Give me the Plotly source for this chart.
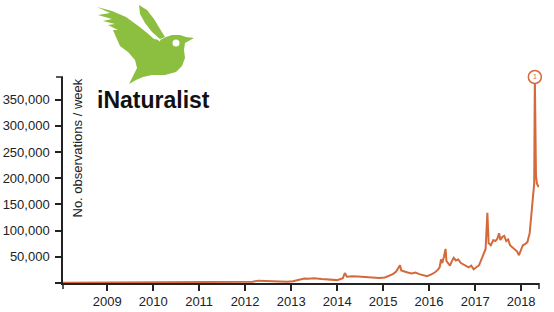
import plotly.graph_objects as go

dates = [
    "2008-01-16", "2008-04-01", "2008-07-01", "2008-10-01",
    "2009-01-01", "2009-04-01", "2009-07-01", "2009-10-01",
    "2010-01-01", "2010-04-01", "2010-07-01", "2010-10-01",
    "2011-01-01", "2011-04-01", "2011-07-01", "2011-10-01",
    "2012-01-01", "2012-03-01", "2012-04-15", "2012-06-01", "2012-08-01", "2012-10-01", "2012-12-01",
    "2013-01-15", "2013-03-01", "2013-04-15", "2013-05-15", "2013-07-01", "2013-09-01", "2013-11-01",
    "2014-01-01", "2014-02-15", "2014-03-03", "2014-03-20", "2014-05-01", "2014-06-15", "2014-08-01",
    "2014-10-01", "2014-12-01",
    "2015-01-15", "2015-02-15", "2015-03-20", "2015-04-15", "2015-05-15", "2015-05-25", "2015-06-15",
    "2015-07-15", "2015-08-15", "2015-09-15", "2015-10-15", "2015-11-15", "2015-12-15",
    "2016-01-15", "2016-02-15", "2016-03-10", "2016-03-25", "2016-04-05", "2016-04-15", "2016-04-28",
    "2016-05-11", "2016-05-18", "2016-05-28", "2016-06-15", "2016-07-01", "2016-07-15", "2016-08-01",
    "2016-08-20", "2016-09-10", "2016-10-01", "2016-10-20", "2016-11-10", "2016-12-01", "2016-12-20",
    "2017-01-10", "2017-02-01", "2017-02-20", "2017-03-10", "2017-03-25", "2017-04-08", "2017-04-18",
    "2017-05-05", "2017-05-25", "2017-06-10", "2017-06-25", "2017-07-10", "2017-07-20", "2017-08-05",
    "2017-08-20", "2017-09-05", "2017-09-20", "2017-10-05", "2017-10-25", "2017-11-10", "2017-12-01",
    "2017-12-15",
    "2018-01-01", "2018-01-15", "2018-02-01", "2018-02-20", "2018-03-10", "2018-03-25", "2018-04-08",
    "2018-04-15", "2018-04-20", "2018-04-29", "2018-05-06", "2018-05-20",
]
observations = [
    300, 400, 600, 500,
    700, 900, 1100, 900,
    1000, 1300, 1500, 1300,
    1400, 1800, 2000, 1800,
    2000, 2500, 4500, 4000, 3500, 3000, 2500,
    3500, 5500, 8500, 8000, 9000, 7500, 6500,
    5500, 9000, 19000, 12000, 13000, 12500, 11500,
    11000, 9500,
    10500, 13000, 17000, 22000, 34000, 24000, 22000,
    20000, 18000, 20000, 17000, 15000, 13000,
    16000, 20000, 25000, 30000, 45000, 38000, 50000,
    65000, 42000, 38000, 33000, 42000, 48000, 43000,
    45000, 38000, 35000, 33000, 30000, 33000, 26000,
    30000, 34000, 45000, 55000, 65000, 134000, 76000,
    72000, 82000, 80000, 84000, 95000, 82000, 88000,
    90000, 80000, 83000, 72000, 68000, 63000, 60000,
    53000,
    65000, 72000, 74000, 78000, 95000, 130000, 175000,
    190000, 393000, 205000, 190000, 183000,
]

year_ticks = ["2009-01-01", "2010-01-01", "2011-01-01", "2012-01-01", "2013-01-01",
              "2014-01-01", "2015-01-01", "2016-01-01", "2017-01-01", "2018-01-01"]
year_labels = ["2009", "2010", "2011", "2012", "2013", "2014", "2015", "2016", "2017", "2018"]
y_ticks = [0, 50000, 100000, 150000, 200000, 250000, 300000, 350000]
y_labels = ["", "50,000", "100,000", "150,000", "200,000", "250,000", "300,000", "350,000"]

LINE = "#d4693a"
GREEN = "#8cbf3f"
AX = "#222222"

# plot area in pixels
L, R, T, B = 63, 539, 77, 283
W, H = R - L, B - T


def px(x):
    return (x - L) / W


def py(y):
    return (B - y) / H


def path(points):
    return "M " + " L ".join(f"{px(x):.4f},{py(y):.4f}" for x, y in points) + " Z"


fig = go.Figure()
fig.add_trace(go.Scatter(x=dates, y=observations, mode="lines",
                         line=dict(color=LINE, width=2), hoverinfo="skip", showlegend=False))

imax = observations.index(max(observations))
fig.add_trace(go.Scatter(x=[dates[imax]], y=[observations[imax]], mode="markers+text",
                         marker=dict(size=13, color="white", line=dict(color=LINE, width=1.5)),
                         text=["1"], textposition="middle center",
                         textfont=dict(size=7, color=LINE, family="Liberation Sans"),
                         cliponaxis=False, showlegend=False, hoverinfo="skip"))

shapes = []
# d3-style outer ticks
shapes.append(dict(type="line", xref="paper", yref="paper", x0=px(56), x1=0, y0=1, y1=1,
                   line=dict(color=AX, width=1.5)))
shapes.append(dict(type="line", xref="paper", yref="paper", x0=0, x1=0, y0=0, y1=py(289),
                   line=dict(color=AX, width=1.5)))
shapes.append(dict(type="line", xref="paper", yref="paper", x0=1, x1=1, y0=0, y1=py(289),
                   line=dict(color=AX, width=1.5)))

# bird logo (decoration)
bird_body = [(97, 7), (112, 11), (126, 17), (137, 25), (146, 32), (154, 39), (160, 40),
             (166, 37), (172, 35), (180, 35), (186, 37), (194, 38), (185, 43), (184, 50),
             (185, 58), (182, 66), (176, 72), (165, 75), (152, 75), (143, 77), (136, 80),
             (129, 84), (133, 76), (137, 68), (135, 60), (128, 52), (120, 46),
             (113, 30), (118, 30), (108, 25), (115, 24), (103, 21), (112, 19), (98, 15),
             (110, 13)]
front_wing = [(139, 5), (147, 10), (154, 19), (160, 29), (165, 37), (160, 39), (152, 32),
              (145, 23), (140, 14)]
for pts in (bird_body, front_wing):
    shapes.append(dict(type="path", xref="paper", yref="paper", path=path(pts),
                       fillcolor=GREEN, line=dict(width=0), layer="above"))
shapes.append(dict(type="line", xref="paper", yref="paper", x0=px(143), y0=py(25),
                   x1=px(160), y1=py(41), line=dict(color="white", width=1.2), layer="above"))
shapes.append(dict(type="circle", xref="paper", yref="paper",
                   x0=px(172.5), x1=px(179.5), y0=py(46.5), y1=py(39.5),
                   fillcolor="white", line=dict(width=0), layer="above"))

annotations = [
    dict(text="No. observations / week", xref="paper", yref="paper", x=px(77), y=1,
         xanchor="center", yanchor="top", textangle=-90, showarrow=False,
         font=dict(size=13, color=AX, family="Liberation Sans")),
    dict(text="<b>iNaturalist</b>", xref="paper", yref="paper",
         x=px(95), y=py(100), xanchor="left", yanchor="middle", showarrow=False,
         font=dict(size=23, color="#111111", family="Liberation Sans")),
]

fig.update_layout(
    width=554, height=312,
    margin=dict(l=L, r=554 - R, t=T, b=312 - B, autoexpand=False),
    paper_bgcolor="white", plot_bgcolor="white",
    shapes=shapes, annotations=annotations,
    font=dict(family="Liberation Sans", size=13, color=AX),
    xaxis=dict(type="date", range=["2008-01-16", "2018-05-23"], tickvals=year_ticks,
               ticktext=year_labels, ticks="outside", ticklen=6, tickwidth=1.5, tickcolor=AX,
               showline=True, linecolor=AX, linewidth=1.5, showgrid=False, zeroline=False,
               automargin=False, tickfont=dict(size=13, color=AX)),
    yaxis=dict(range=[0, 393000], tickvals=y_ticks, ticktext=y_labels, ticks="outside",
               ticklen=6, tickwidth=1.5, tickcolor=AX, showline=True, linecolor=AX,
               linewidth=1.5, showgrid=False, zeroline=False, automargin=False,
               ticklabelstandoff=3, tickfont=dict(size=13, color=AX)),
)

fig.write_html("out.html")
